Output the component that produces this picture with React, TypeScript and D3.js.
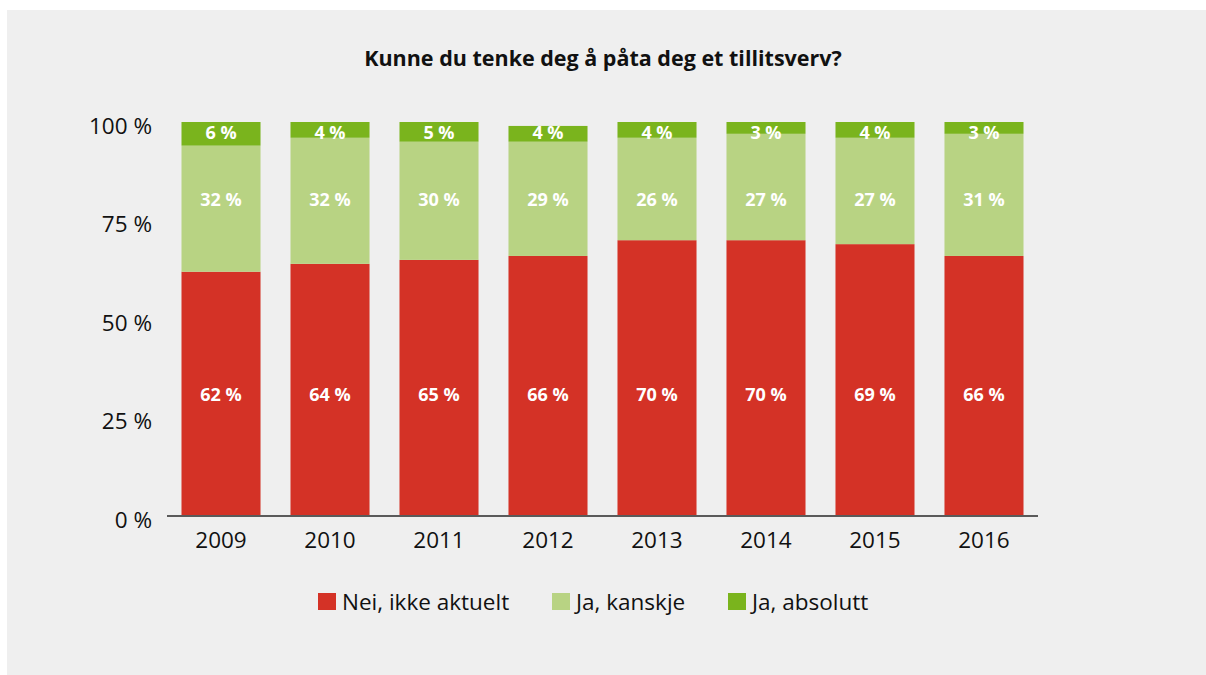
import React from 'react';
import * as d3 from 'd3';

const years = ['2009', '2010', '2011', '2012', '2013', '2014', '2015', '2016'];
const neiIkkeAktuelt = [62, 64, 65, 66, 70, 70, 69, 66];
const jaKanskje = [32, 32, 30, 29, 26, 27, 27, 31];
const jaAbsolutt = [6, 4, 5, 4, 4, 3, 4, 3];
const seriesNames = ['Nei, ikke aktuelt', 'Ja, kanskje', 'Ja, absolutt'];
const seriesColors = ['#d43226', '#b8d383', '#7ab41d'];
const yTicks = [0, 25, 50, 75, 100];

const W = 1206;
const H = 675;
const FONT = '"Open Sans", sans-serif';

// where the value labels of each series sit (in % units)
const LABEL_AT = [30.8, 80.2, 97.2];

const App = () => {
  const rows = years.map((y, i) => ({
    year: y,
    nei: neiIkkeAktuelt[i],
    kanskje: jaKanskje[i],
    absolutt: jaAbsolutt[i],
  }));
  const keys = ['nei', 'kanskje', 'absolutt'];
  const stacked = d3.stack<any>().keys(keys)(rows);

  const x = d3.scaleBand().domain(years).range([167, 1038]).paddingInner(0.275).paddingOuter(0.133);
  const y = d3.scaleLinear().domain([0, 100]).range([516, 122]);

  const legendX = [318, 552, 728];

  return (
    <svg width={W} height={H} style={{ position: 'absolute', left: 0, top: 0 }}>
      <rect x={0} y={0} width={W} height={H} fill="#ffffff" />
      <rect x={7} y={10} width={W - 7} height={H - 10} fill="#efefef" />
      <text x={603} y={66} textAnchor="middle" fontFamily={FONT} fontWeight="bold" fontSize={21.5} fill="#111">
        Kunne du tenke deg å påta deg et tillitsverv?
      </text>

      {yTicks.map(t => (
        <text key={t} x={152} y={y(t) + 4} dy="0.35em" textAnchor="end" fontFamily={FONT} fontSize={22.5} fill="#111">
          {t} %
        </text>
      ))}

      {stacked.map((s, si) => (
        <g key={s.key}>
          {s.map((d, i) => (
            <rect
              key={i}
              x={x(years[i])}
              y={y(d[1])}
              width={x.bandwidth()}
              height={y(d[0]) - y(d[1])}
              fill={seriesColors[si]}
            />
          ))}
        </g>
      ))}

      {stacked.map((s, si) => (
        <g key={'l' + s.key}>
          {s.map((d, i) => (
            <text
              key={i}
              x={(x(years[i]) as number) + x.bandwidth() / 2}
              y={y(LABEL_AT[si])}
              dy="0.35em"
              textAnchor="middle"
              fontFamily={FONT}
              fontWeight="bold"
              fontSize={18}
              fill="#ffffff"
            >
              {d[1] - d[0]} %
            </text>
          ))}
        </g>
      ))}

      <line x1={167} x2={1038} y1={516} y2={516} stroke="#5a5a5a" strokeWidth={2} />

      {years.map(yr => (
        <text
          key={yr}
          x={(x(yr) as number) + x.bandwidth() / 2}
          y={540}
          dy="0.35em"
          textAnchor="middle"
          fontFamily={FONT}
          fontSize={22.5}
          fill="#111"
        >
          {yr}
        </text>
      ))}

      {seriesNames.map((n, i) => (
        <g key={n} transform={`translate(${legendX[i]},0)`}>
          <rect x={0} y={593} width={18} height={17} fill={seriesColors[i]} />
          <text x={24} y={602} dy="0.35em" fontFamily={FONT} fontSize={22.5} fill="#111">
            {n}
          </text>
        </g>
      ))}
    </svg>
  );
};

export default App;
